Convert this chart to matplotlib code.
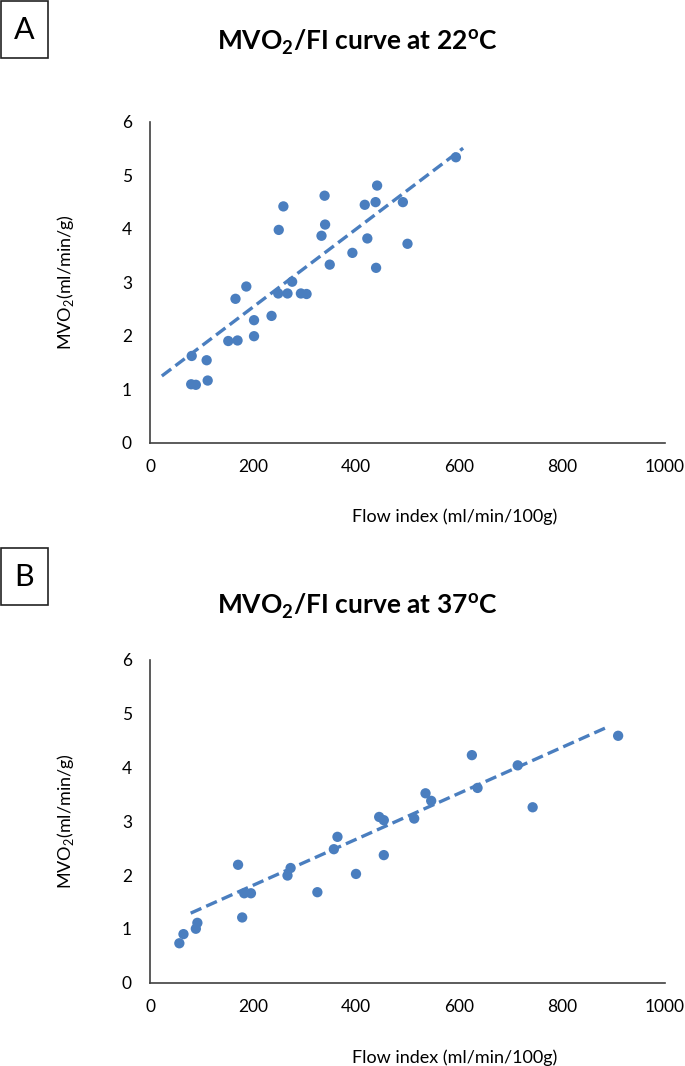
import matplotlib.pyplot as plt
from matplotlib.patches import Rectangle

plt.rcParams['font.family'] = ['Lato', 'DejaVu Sans']
plt.rcParams['mathtext.fontset'] = 'custom'
plt.rcParams['mathtext.rm'] = 'Lato'
plt.rcParams['mathtext.bf'] = 'Lato:bold'

# Panel A: 22 C
flow_22 = [81, 110, 80, 89, 112, 152, 170, 202, 202, 236, 166, 187, 249, 267, 276, 293,
           304, 250, 259, 333, 340, 339, 349, 393, 422, 417, 438, 441, 439, 491, 500, 594]
mvo2_22 = [1.62, 1.54, 1.09, 1.08, 1.16, 1.90, 1.91, 1.99, 2.29, 2.37, 2.69, 2.92, 2.79, 2.79, 3.01, 2.79,
           2.78, 3.98, 4.42, 3.87, 4.08, 4.62, 3.33, 3.55, 3.82, 4.45, 4.50, 4.81, 3.27, 4.50, 3.72, 5.34]
trend_22_x = [23, 608]
trend_22_y = [1.245, 5.51]

# Panel B: 37 C
flow_37 = [57, 65, 89, 92, 171, 179, 183, 196, 267, 273, 325, 357, 364, 400, 445, 454,
           454, 513, 535, 546, 625, 636, 714, 743, 909]
mvo2_37 = [0.73, 0.90, 1.00, 1.11, 2.19, 1.21, 1.66, 1.66, 1.99, 2.13, 1.68, 2.48, 2.71, 2.02, 3.08, 3.02,
           2.37, 3.05, 3.52, 3.38, 4.23, 3.62, 4.04, 3.26, 4.59]
trend_37_x = [79, 890]
trend_37_y = [1.29, 4.76]

x_ticks = [0, 200, 400, 600, 800, 1000]
y_ticks = [0, 1, 2, 3, 4, 5, 6]

blue = '#4A7EBF'
W, H = 685, 1066

fig = plt.figure(figsize=(W / 100, H / 100), dpi=100)


def panel(rect, fx, fy, tx, ty):
    ax = fig.add_axes(rect)
    ax.scatter(fx, fy, s=55, color=blue, edgecolors='none', zorder=3)
    ax.plot(tx, ty, color=blue, lw=2.4, dashes=(3.5, 1.6), zorder=2)
    ax.set_xlim(0, 1000)
    ax.set_ylim(0, 6)
    ax.set_xticks(x_ticks)
    ax.set_yticks(y_ticks)
    ax.tick_params(length=0, labelsize=12.5, colors='#000000')
    ax.tick_params(axis='x', pad=12)
    ax.tick_params(axis='y', pad=13)
    for s in ['top', 'right']:
        ax.spines[s].set_visible(False)
    for s in ['left', 'bottom']:
        ax.spines[s].set_color('#404040')
        ax.spines[s].set_linewidth(1.2)
    ax.set_xlabel('Flow index (ml/min/100g)', fontsize=13)
    ax.set_ylabel(r'MVO$_2$(ml/min/g)', fontsize=13)
    ax.xaxis.set_label_coords((455 - 150) / 515, -0.233)
    ax.yaxis.set_label_coords(-0.165, 0.5)
    ax.xaxis.label.set_verticalalignment('center')
    ax.yaxis.label.set_verticalalignment('center')
    return ax


ax_a = panel([150 / W, 1 - 442.5 / H, 515 / W, 320.5 / H], flow_22, mvo2_22, trend_22_x, trend_22_y)
ax_b = panel([150 / W, 1 - 982.5 / H, 515 / W, 322.5 / H], flow_37, mvo2_37, trend_37_x, trend_37_y)

# titles
fig.text(357 / W, 1 - 42 / H, r'MVO$_{\mathbf{2}}$/FI curve at 22$^{\mathbf{o}}$C',
         ha='center', va='center', fontsize=19, fontweight='bold')
fig.text(357 / W, 1 - 606 / H, r'MVO$_{\mathbf{2}}$/FI curve at 37$^{\mathbf{o}}$C',
         ha='center', va='center', fontsize=19, fontweight='bold')

# panel letters in boxes
for letter, top in [('A', 1), ('B', 548)]:
    fig.patches.append(Rectangle((1 / W, 1 - (top + 57) / H), 47 / W, 57 / H,
                                 transform=fig.transFigure, fill=False,
                                 edgecolor='#222222', lw=1.2))
    fig.text(24.5 / W, 1 - (top + 29) / H, letter, ha='center', va='center', fontsize=22)

fig.savefig('out.png', dpi=100)
